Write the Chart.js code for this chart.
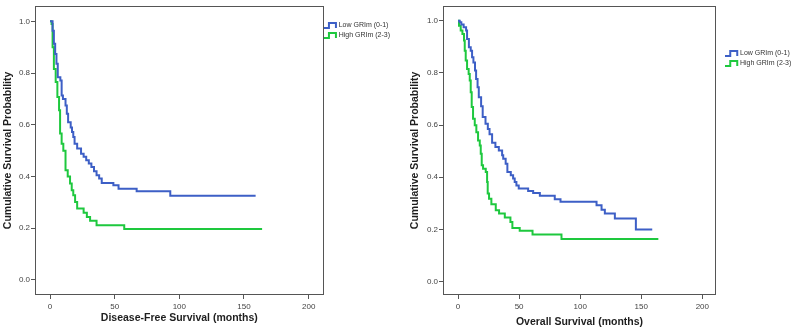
<!DOCTYPE html>
<html>
<head>
<meta charset="utf-8">
<script src="https://cdn.jsdelivr.net/npm/chart.js@4"></script>
<style>
    html, body { margin: 0; padding: 0; background: #fff; }
    .panel { position: absolute; top: 0; height: 331px; }
    #left  { left: 0;     width: 400px; }
    #right { left: 400px; width: 396px; }
</style>
</head>
<body>
<div class="panel" id="left"><canvas id="dfsChart" width="400" height="331"></canvas></div>
<div class="panel" id="right"><canvas id="osChart" width="396" height="331"></canvas></div>
<script>
// ============================================================
//  Data
// ============================================================

const groupLabels = ["Low GRIm (0-1)", "High GRIm (2-3)"];
const xTicks = [0, 50, 100, 150, 200];
const yTicks = [0, 0.2, 0.4, 0.6, 0.8, 1.0];

// Disease-free survival
const dfsLowTime = [0, 2, 3, 4, 5, 6, 8, 9, 10, 12, 13, 14, 16, 17, 18, 19, 21, 24, 26, 28, 30, 32, 34, 36, 38, 40, 49, 53, 67, 93, 159];
const dfsLowSurv = [1.0, 0.964, 0.913, 0.874, 0.836, 0.784, 0.771, 0.713, 0.700, 0.675, 0.643, 0.610, 0.590, 0.572, 0.553, 0.527, 0.508, 0.488, 0.476, 0.463, 0.450, 0.437, 0.420, 0.405, 0.392, 0.375, 0.366, 0.353, 0.343, 0.326, 0.326];
const dfsHighTime = [0, 1.2, 2, 3, 4.4, 5.7, 7, 7.8, 9, 10.3, 12, 13.7, 15.5, 16.8, 18, 19.4, 21, 26, 28.5, 31, 36, 57.4, 164];
const dfsHighSurv = [1.0, 0.99, 0.90, 0.816, 0.765, 0.707, 0.656, 0.566, 0.527, 0.500, 0.424, 0.400, 0.373, 0.347, 0.328, 0.302, 0.276, 0.260, 0.244, 0.229, 0.212, 0.197, 0.197];

// Overall survival
const osLowTime = [0, 1.4, 2.7, 4.6, 6.6, 7.4, 8.9, 10.4, 11.5, 12.6, 13.9, 14.8, 16, 17, 18.9, 20.2, 22.5, 24.4, 25.8, 27.9, 30.6, 33.4, 36.1, 37, 39, 40.4, 43.2, 45.1, 46.4, 47.8, 49.7, 57.4, 61.5, 67, 79.2, 83.9, 113.4, 117.5, 120.2, 128.4, 145.6, 159];
const osLowSurv = [1.0, 0.994, 0.985, 0.975, 0.962, 0.930, 0.898, 0.885, 0.860, 0.840, 0.809, 0.777, 0.745, 0.707, 0.672, 0.631, 0.605, 0.585, 0.565, 0.532, 0.516, 0.503, 0.484, 0.471, 0.452, 0.420, 0.408, 0.395, 0.382, 0.369, 0.357, 0.347, 0.340, 0.329, 0.316, 0.306, 0.293, 0.276, 0.261, 0.242, 0.200, 0.200];
const osHighTime = [0, 0.8, 2.2, 3.6, 4.9, 5.5, 6.3, 7.4, 8.7, 9.6, 10.4, 11.2, 12.3, 13.7, 15, 16.4, 17.8, 18.6, 19.4, 20.5, 22.7, 23.8, 24.3, 25.4, 27.3, 30.9, 33.6, 38.3, 42.9, 44.5, 50.5, 61, 84.7, 164];
const osHighSurv = [1.0, 0.981, 0.962, 0.949, 0.924, 0.885, 0.847, 0.815, 0.796, 0.771, 0.726, 0.669, 0.624, 0.599, 0.573, 0.541, 0.522, 0.490, 0.446, 0.433, 0.420, 0.382, 0.338, 0.318, 0.297, 0.274, 0.261, 0.246, 0.229, 0.206, 0.195, 0.181, 0.164, 0.164];

// ============================================================
//  Shared styles
// ============================================================

const COLORS = {
    low:   "#3d5fc6",
    high:  "#1ec83e",
    frame: "#555555",
    tick:  "#444444",
    title: "#1e1e1e",
};
const FONT = "Arial, 'Liberation Sans', sans-serif";

// SPSS-style little step glyph for the legend
function stepIcon(color) {
    const c = document.createElement("canvas");
    c.width = 14;
    c.height = 9;
    const g = c.getContext("2d");
    g.strokeStyle = color;
    g.lineWidth = 2;
    g.beginPath();
    g.moveTo(0, 7);
    g.lineTo(5, 7);
    g.lineTo(5, 2);
    g.lineTo(12, 2);
    g.lineTo(12, 7);
    g.stroke();
    return c;
}

// box round the plot area
const framePlugin = {
    id: "frame",
    beforeDatasetsDraw(chart) {
        const { ctx, chartArea: a } = chart;
        ctx.save();
        ctx.strokeStyle = COLORS.frame;
        ctx.lineWidth = 1;
        ctx.strokeRect(Math.round(a.left) + 0.5, Math.round(a.top) + 0.5,
                       Math.round(a.right - a.left) - 1, Math.round(a.bottom - a.top) - 1);
        ctx.restore();
    },
};

const zip = (t, s) => t.map((x, i) => ({ x, y: s[i] }));

// ============================================================
//  Kaplan-Meier panel
// ============================================================

function renderKmChart(canvasId, lowT, lowS, highT, highS, xTitle, geo) {
    const icons = [stepIcon(COLORS.low), stepIcon(COLORS.high)];
    const scales = {
        x: {
            type: "linear",
            min: geo.xMin,
            max: geo.xMax,
            afterBuildTicks: s => { s.ticks = xTicks.map(v => ({ value: v })); },
            afterFit: s => { s.height = 36; },
            grid: { drawOnChartArea: false, drawTicks: true, tickLength: 4, color: COLORS.frame },
            border: { display: false },
            ticks: { color: COLORS.tick, font: { family: FONT, size: 8 }, padding: 3, maxRotation: 0 },
            title: {
                display: true,
                text: xTitle,
                color: COLORS.title,
                font: { family: FONT, size: 10.5, weight: "bold" },
                padding: { top: 0, bottom: geo.xTitlePad },
            },
        },
        y: {
            type: "linear",
            min: geo.yMin,
            max: geo.yMax,
            afterBuildTicks: s => { s.ticks = yTicks.map(v => ({ value: v })); },
            afterFit: s => { s.width = geo.yAxisWidth; },
            grid: { drawOnChartArea: false, drawTicks: true, tickLength: 4, color: COLORS.frame },
            border: { display: false },
            ticks: {
                color: COLORS.tick,
                font: { family: FONT, size: 8 },
                padding: 1,
                callback: v => v.toFixed(1),
            },
            title: {
                display: true,
                text: "Cumulative Survival Probability",
                color: COLORS.title,
                font: { family: FONT, size: 10.5, weight: "bold" },
                padding: { top: geo.yTitlePad, bottom: 0 },
            },
        },
    };
    if (geo.gap) {
        // empty spacer between plot box and legend
        scales.gap = {
            type: "linear",
            position: "right",
            grid: { display: false },
            border: { display: false },
            ticks: { display: false },
            afterFit: s => { s.width = geo.gap; },
        };
    }

    return new Chart(document.getElementById(canvasId), {
        type: "line",
        data: {
            datasets: [
                {
                    label: groupLabels[0],
                    data: zip(lowT, lowS),
                    borderColor: COLORS.low,
                    borderWidth: 2,
                    stepped: "before",
                    pointRadius: 0,
                    fill: false,
                },
                {
                    label: groupLabels[1],
                    data: zip(highT, highS),
                    borderColor: COLORS.high,
                    borderWidth: 2,
                    stepped: "before",
                    pointRadius: 0,
                    fill: false,
                },
            ],
        },
        options: {
            responsive: false,
            animation: false,
            layout: { padding: { top: 5, right: 0, bottom: 0, left: 0 } },
            plugins: {
                tooltip: { enabled: false },
                legend: {
                    position: "right",
                    align: "start",
                    maxWidth: geo.legendWidth,
                    title: { display: true, text: "", font: { size: 10 }, padding: { top: geo.legendTop, bottom: 0 } },
                    labels: {
                        usePointStyle: true,
                        pointStyleWidth: 8.5,
                        padding: 3,
                        color: "#333",
                        font: { family: FONT, size: 7 },
                        generateLabels: chart => chart.data.datasets.map((d, i) => ({
                            text: d.label,
                            pointStyle: icons[i],
                            fillStyle: d.borderColor,
                            strokeStyle: d.borderColor,
                            lineWidth: 0,
                            fontColor: "#333",
                            datasetIndex: i,
                            hidden: false,
                        })),
                    },
                },
            },
            scales,
        },
        plugins: [framePlugin],
    });
}

renderKmChart("dfsChart", dfsLowTime, dfsLowSurv, dfsHighTime, dfsHighSurv,
    "Disease-Free Survival (months)",
    { xMin: -11.6, xMax: 211.6, yMin: -0.058, yMax: 1.06, yAxisWidth: 35,
      legendWidth: 77, legendTop: 2, gap: 0, yTitlePad: 2, xTitlePad: 6.7 });

renderKmChart("osChart", osLowTime, osLowSurv, osHighTime, osHighSurv,
    "Overall Survival (months)",
    { xMin: -12.3, xMax: 211.2, yMin: -0.051, yMax: 1.057, yAxisWidth: 43,
      legendWidth: 71, legendTop: 30, gap: 9, yTitlePad: 8.7, xTitlePad: 2.7 });
</script>
</body>
</html>
